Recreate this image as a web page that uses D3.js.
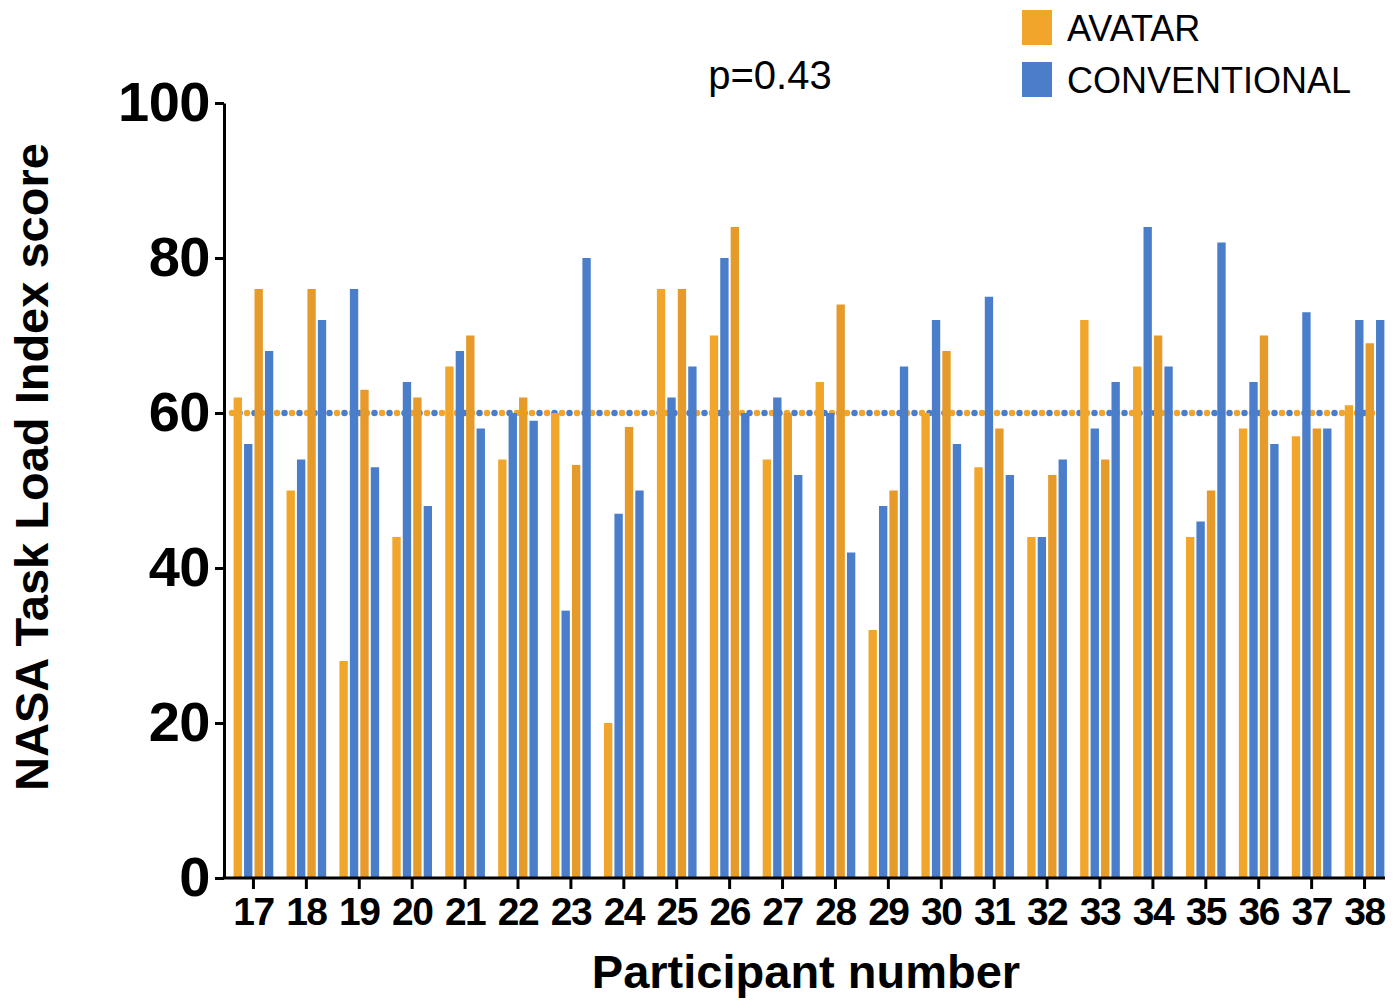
<!DOCTYPE html>
<html>
<head>
<meta charset="utf-8">
<script src="https://cdn.jsdelivr.net/npm/d3@7"></script>
<style>
    body { margin: 0; background: #fff; }
    svg { display: block; font-family: "Liberation Sans", Arial, sans-serif; }
</style>
</head>
<body>
<svg id="chart"></svg>
<script>
// participant ids (x tick labels)
const participants = ["17","18","19","20","21","22","23","24","25","26","27","28","29","30","31","32","33","34","35","36","37","38"];

// four bars per participant: avatar, conventional, avatar, conventional
const avatarFirst = [62,50,28,44,66,54,60,20,76,70,54,64,32,60,53,44,72,66,44,58,57,61];
const conventionalFirst = [56,54,76,64,68,60,34.5,47,62,80,62,60,48,72,75,44,58,84,46,64,73,72];
const avatarSecond = [76,76,63,62,70,62,53.3,58.2,76,84,60,74,50,68,58,52,54,70,50,70,58,69];
const conventionalSecond = [68,72,53,48,58,59,80,50,66,60,52,42,66,56,52,54,64,66,82,56,58,72];

// dotted mean lines
const meanNames = ["AVATAR", "CONVENTIONAL"];
const meanValues = [60, 60];

const yTicks = [0, 20, 40, 60, 80, 100];
const legendNames = ["AVATAR", "CONVENTIONAL"];

const width = 1399;
const height = 1000;

const ORANGE = "#f2a52b";
const ORANGE_DARK = "#e69a2a";
const BLUE = "#4a7ecb";

const series = [
    { key: "avatarFirst", values: avatarFirst, color: ORANGE },
    { key: "conventionalFirst", values: conventionalFirst, color: BLUE },
    { key: "avatarSecond", values: avatarSecond, color: ORANGE_DARK },
    { key: "conventionalSecond", values: conventionalSecond, color: BLUE }
];

const svg = d3.select("#chart")
    .attr("width", width)
    .attr("height", height);

const x = d3.scaleBand()
    .domain(participants)
    .range([227, 1391])
    .paddingInner(0.25)
    .paddingOuter(0.125);

const xSub = d3.scaleBand()
    .domain(series.map(s => s.key))
    .range([0, x.bandwidth()])
    .paddingInner(0.2)
    .paddingOuter(0);

const y = d3.scaleLinear()
    .domain([0, 100])
    .range([878, 103]);

const axisLeft = 224;
const axisRight = 1385;

// mean lines (behind bars)
const meanColors = [ORANGE, BLUE];
svg.append("g")
    .selectAll("line")
    .data(meanValues)
    .enter()
    .append("line")
    .attr("x1", 232)
    .attr("x2", axisRight)
    .attr("y1", d => y(d))
    .attr("y2", d => y(d))
    .attr("stroke", (d, i) => meanColors[i])
    .attr("stroke-width", 6.5)
    .attr("stroke-linecap", "round")
    .attr("stroke-dasharray", "0 15")
    .attr("stroke-dashoffset", (d, i) => i * -7.5);

// bars
const rows = participants.map((p, i) => ({
    participant: p,
    bars: series.map(s => ({ key: s.key, value: s.values[i], color: s.color }))
}));

const group = svg.append("g")
    .selectAll("g")
    .data(rows)
    .enter()
    .append("g")
    .attr("transform", d => `translate(${x(d.participant)},0)`);

group.selectAll("rect")
    .data(d => d.bars)
    .enter()
    .append("rect")
    .attr("x", d => xSub(d.key))
    .attr("width", xSub.bandwidth())
    .attr("y", d => y(d.value))
    .attr("height", d => y(0) - y(d.value))
    .attr("fill", d => d.color);

// y axis
const yAxis = svg.append("g")
    .attr("transform", `translate(${axisLeft},0)`)
    .call(d3.axisLeft(y).tickValues(yTicks).tickSize(9).tickSizeOuter(0).tickPadding(5));

yAxis.select(".domain").attr("stroke", "#000").attr("stroke-width", 3);
yAxis.selectAll(".tick line").attr("stroke", "#000").attr("stroke-width", 3);
yAxis.selectAll(".tick text")
    .attr("font-size", "56px")
    .attr("font-weight", "bold")
    .attr("fill", "#000")
    .attr("font-family", "Liberation Sans, Arial, sans-serif")
    .attr("letter-spacing", "-0.5px");

// x axis
const xAxis = svg.append("g")
    .attr("transform", `translate(0,${y(0)})`)
    .call(d3.axisBottom(x).tickSize(11).tickSizeOuter(0).tickPadding(8));

xAxis.select(".domain").remove();
xAxis.append("line")
    .attr("x1", axisLeft - 1.5)
    .attr("x2", axisRight)
    .attr("stroke", "#000")
    .attr("stroke-width", 3);
xAxis.selectAll(".tick line").attr("stroke", "#000").attr("stroke-width", 3);
xAxis.selectAll(".tick text")
    .attr("font-size", "39px")
    .attr("font-weight", "bold")
    .attr("fill", "#000")
    .attr("font-family", "Liberation Sans, Arial, sans-serif")
    .attr("letter-spacing", "-1.5px");

// axis titles
svg.append("text")
    .attr("x", 806)
    .attr("y", 988)
    .attr("text-anchor", "middle")
    .attr("font-size", "47px")
    .attr("font-weight", "bold")
    .text("Participant number");

svg.append("text")
    .attr("transform", "translate(48,467) rotate(-90)")
    .attr("text-anchor", "middle")
    .attr("font-size", "47px")
    .attr("font-weight", "bold")
    .text("NASA Task Load Index score");

// p value
svg.append("text")
    .attr("x", 770)
    .attr("y", 89)
    .attr("text-anchor", "middle")
    .attr("font-size", "40px")
    .text("p=0.43");

// legend
const legendColors = [ORANGE, BLUE];
const legend = svg.append("g")
    .selectAll("g")
    .data(legendNames)
    .enter()
    .append("g")
    .attr("transform", (d, i) => `translate(1022,${10 + i * 52})`);

legend.append("rect")
    .attr("width", 30)
    .attr("height", 35)
    .attr("fill", (d, i) => legendColors[i]);

legend.append("text")
    .attr("x", 45)
    .attr("y", 31)
    .attr("font-size", "36px")
    .attr("fill", "#000")
    .text(d => d);
</script>
</body>
</html>
